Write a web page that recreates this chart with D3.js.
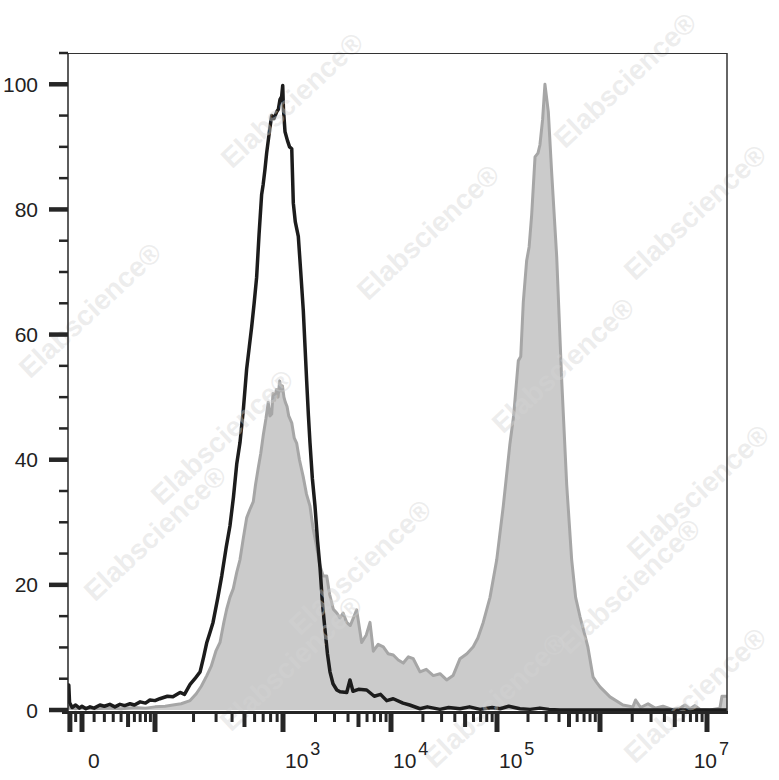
<!DOCTYPE html>
<html><head><meta charset="utf-8">
<script src="https://cdn.jsdelivr.net/npm/d3@7"></script>
<style>html,body{margin:0;padding:0;background:#fff;} svg{display:block;}</style>
</head><body><svg id="chart" width="779" height="780"></svg>
<script>
// ---------- DATA ----------
// [fluorescence intensity, % of max]
const controlCurve = [
[-11.7,4],[-11,4],[-10.3,1.2],[-8,0.4],[-5,0.8],[-2,0.3],[0,0.6],[3,0.2],[6.4,0.5],[10,0.3],[15.5,0.8],[20,0.6],[26,0.9],[32,0.5],[38.5,0.9],[45,0.7],[53,1.0],[60,0.8],[70,1.3],[80,1.1],[89,1.6],[100,1.5],[109,1.8],[125,2.2],[138,2.1],[157,2.8],[170,2.5],[188,4.1],[205,5.0],[225,6.1],[240,8.5],[254,10.8],[270,12.5],[284,14],[310,18],[332,21.4],[360,26],[385,29.4],[410,34],[435,39.3],[461,42.7],[490,48],[520,54.5],[545,58],[569,61.2],[595,65],[622,69.1],[650,76],[681,82.4],[700,84],[723,86.4],[745,89],[767,91],[790,93],[816,95],[850,94.5],[893,95.6],[920,96],[948,97.6],[975,98],[995,99.8],[1010,96],[1044,92.4],[1100,91],[1150,90],[1205,89.7],[1246,81],[1300,78],[1386,75.7],[1460,70],[1542,63.8],[1600,58],[1656,52.6],[1720,47],[1778,42.7],[1870,37],[1978,32.6],[2090,27],[2203,22.7],[2320,17],[2449,12.8],[2580,9],[2723,6.1],[2904,4.2],[3150,3.2],[3373,2.9],[3890,2.8],[4170,4.8],[4446,3.0],[5000,3.3],[5954,3.2],[7000,2.2],[8000,2.5],[9120,1.5],[10500,1.8],[12980,1.1],[15000,0.8],[18780,0.2],[22000,0.5],[28970,0.1],[35000,0.4],[44770,0.2],[55000,0.5],[69180,0.1],[90000,0.4],[107000,0.2],[130000,0.6],[167000,0.2],[210000,0.1],[261000,0.3],[320000,0.1],[409000,0],[640000,0],[1e6,0],[2.37e6,0],[5.6e6,0],[1e7,0],[1.54e7,0]
];
const stainedCurve = [
[-11.7,0.8],[-10,0.3],[-5,0.2],[0,0.4],[10,0.2],[25,0.3],[40,0.2],[60,0.4],[80,0.3],[100,0.5],[120,0.6],[138,0.8],[160,1.0],[188,1.5],[210,2.6],[230,3.8],[254,5.5],[275,7.0],[300,9.5],[322,10.8],[345,14.0],[363,16.1],[385,18.0],[409,19.4],[435,22.0],[461,24.0],[490,27.5],[520,30.7],[550,32.0],[586,33.3],[610,36.0],[641,38.7],[670,41.0],[702,44.0],[735,46.5],[767,49.2],[790,47.0],[816,47.3],[835,50.6],[860,49.5],[887,51.2],[915,50.0],[942,52.6],[965,51.0],[990,51.8],[1020,50.0],[1050,49.2],[1090,48.5],[1130,47.0],[1205,45.9],[1270,43.5],[1340,42.6],[1420,40.0],[1538,37.3],[1650,34.5],[1778,32.6],[1900,29.0],[2052,26.0],[2200,23.0],[2361,21.4],[2540,21.4],[2700,18.5],[2925,16.1],[3150,15.5],[3373,14.7],[3600,15.5],[3890,14.0],[4200,13.5],[4810,16.0],[5350,10.8],[5900,12.0],[6390,14.0],[6860,9.4],[7600,10.5],[8490,10.1],[9400,9.0],[10510,8.8],[11700,8.0],[13060,7.5],[14600,8.5],[16220,8.2],[18780,6.1],[21500,6.5],[25070,5.5],[29000,5.8],[33500,4.8],[38500,5.5],[44770,8.2],[52000,9.0],[59700,10.1],[66000,11.5],[74130,14.0],[85900,18.0],[99400,24.0],[115100,32.6],[133600,42.6],[145000,47],[161000,55.8],[170000,56.5],[180000,65.2],[194000,71.8],[205000,74],[217000,79.1],[234000,88.4],[250000,89],[261000,90.3],[277000,94.3],[292000,100],[315000,95.6],[340000,85.7],[380000,72.4],[424000,53],[475000,36],[531000,24],[580000,18],[640000,14.9],[700000,12.5],[764000,10],[855000,5.3],[920000,4.5],[1e6,3.7],[1.24e6,2.1],[1.64e6,0.8],[2.03e6,0.5],[2.15e6,1.6],[2.4e6,0.4],[2.81e6,1.0],[3.27e6,0.3],[3.88e6,0.6],[4.71e6,0.1],[5.6e6,0.3],[6.22e6,0.8],[6.93e6,0.2],[7.72e6,0.7],[8.6e6,0.1],[1.066e7,0],[1.32e7,0.3],[1.38e7,2.2],[1.54e7,2.2]
];
const yMajorTicks = [0,20,40,60,80,100];
const yMinorTicks = [5,10,15,25,30,35,45,50,55,65,70,75,85,90,95,105];
const xMajorTicks = [-10,0,100,1e3,1e4,1e5,1e6,1e7];
const xMediumTicks = [50,500,5e3,5e4,5e5,5e6];
const xMinorTicks = [-5,10,20,30,40,60,70,80,90].concat(
  ...[2,3,4,5,6].map(e => [2,3,4,6,7,8,9].map(m => m * Math.pow(10, e))));
const xTickLabels = [
  {value:0, base:"0", exp:""},
  {value:1e3, base:"10", exp:"3"},
  {value:1e4, base:"10", exp:"4"},
  {value:1e5, base:"10", exp:"5"},
  {value:1e7, base:"10", exp:"7"}
];
const watermarkText = "Elabscience®";
const watermarkSpots = [[292,100],[428,232],[563,365],[698,492],[90,310],[222,437],[360,567],[495,700],[625,80],[695,212],[155,533],[291,663],[629,586],[695,695]];

// ---------- SCALES ----------
const plot = {left:68, right:727, top:53, bottom:712};
function biex(v){ // linear-like near 0, log10 above 100
  const a = Math.abs(v);
  const t = a < 100 ? 2*Math.log1p(a/50)/Math.log(3) : Math.log10(a);
  return v < 0 ? -t : t;
}
const xDecade = d3.scaleLinear().domain([0,2,3,4,5,6,7]).range([82,155,283,391,497,600,707]);
const x = v => xDecade(biex(v));
const y = d3.scaleLinear().domain([0,105]).range([710, 53]);

const svg = d3.select("#chart");
const font = "'Liberation Sans', Arial, sans-serif";

svg.append("defs").append("clipPath").attr("id","clip")
  .append("rect").attr("x",plot.left).attr("y",plot.top)
  .attr("width",plot.right-plot.left).attr("height",plot.bottom-plot.top);

const g = svg.append("g").attr("clip-path","url(#clip)");

const area = d3.area().x(d=>x(d[0])).y0(y(0)).y1(d=>y(d[1]));
const line = d3.line().x(d=>x(d[0])).y(d=>y(d[1]));

g.append("path").datum(stainedCurve).attr("d",area).attr("fill","#cbcbcb");
g.append("path").datum(stainedCurve).attr("d",line).attr("fill","none")
  .attr("stroke","#a6a6a6").attr("stroke-width",3).attr("stroke-linejoin","round");
g.append("path").datum(controlCurve).attr("d",line).attr("fill","none")
  .attr("stroke","#1c1c1c").attr("stroke-width",3.5).attr("stroke-linejoin","round");

// watermark
svg.append("g").selectAll("text").data(watermarkSpots).join("text")
  .attr("transform", d => `translate(${d[0]},${d[1]}) rotate(-43)`)
  .attr("text-anchor","middle").attr("dy","0.35em")
  .attr("font-family",font).attr("font-weight","bold").attr("font-size",28)
  .attr("fill","#d4d4d4").attr("fill-opacity",0.42)
  .text(watermarkText);

// frame
const axisColor = "#262626";
svg.append("line").attr("x1",plot.left).attr("x2",plot.right).attr("y1",plot.top+0.5).attr("y2",plot.top+0.5)
  .attr("stroke","#333").attr("stroke-width",1);
svg.append("line").attr("x1",plot.right).attr("x2",plot.right).attr("y1",plot.top).attr("y2",plot.bottom)
  .attr("stroke","#333").attr("stroke-width",1.5);
svg.append("line").attr("x1",plot.left).attr("x2",plot.left).attr("y1",plot.top).attr("y2",plot.bottom+2)
  .attr("stroke",axisColor).attr("stroke-width",1.5);
svg.append("line").attr("x1",plot.left-6).attr("x2",plot.right+1).attr("y1",plot.bottom+0.5).attr("y2",plot.bottom+0.5)
  .attr("stroke",axisColor).attr("stroke-width",3);

// y ticks
svg.append("g").selectAll("line").data(yMajorTicks).join("line")
  .attr("x1",49).attr("x2",plot.left).attr("y1",d=>y(d)).attr("y2",d=>y(d))
  .attr("stroke",axisColor).attr("stroke-width",4.5);
svg.append("g").selectAll("line").data(yMinorTicks).join("line")
  .attr("x1",59).attr("x2",plot.left).attr("y1",d=>y(d)).attr("y2",d=>y(d))
  .attr("stroke",axisColor).attr("stroke-width",2.5);
svg.append("g").selectAll("text").data(yMajorTicks).join("text")
  .attr("x",38).attr("y",d=>y(d)+7.5).attr("text-anchor","end")
  .attr("font-family",font).attr("font-size",21).attr("fill","#222")
  .text(d=>d);

// x ticks
const tickLayer = svg.append("g");
tickLayer.selectAll(".mn").data(xMinorTicks).join("line")
  .attr("x1",d=>x(d)).attr("x2",d=>x(d)).attr("y1",plot.bottom).attr("y2",722)
  .attr("stroke",axisColor).attr("stroke-width",3);
tickLayer.selectAll(".md").data(xMediumTicks).join("line")
  .attr("x1",d=>x(d)).attr("x2",d=>x(d)).attr("y1",plot.bottom).attr("y2",727)
  .attr("stroke",axisColor).attr("stroke-width",4);
tickLayer.selectAll(".mj").data(xMajorTicks).join("line")
  .attr("x1",d=>x(d)).attr("x2",d=>x(d)).attr("y1",plot.bottom).attr("y2",732)
  .attr("stroke",axisColor).attr("stroke-width",5);

// x labels
const lab = svg.append("g").selectAll("g").data(xTickLabels).join("g");
lab.each(function(d){
  const gg = d3.select(this);
  const t = gg.append("text").attr("y",768).attr("font-family",font).attr("font-size",21).attr("fill","#222");
  t.append("tspan").text(d.base);
  if (d.exp) {
    t.append("tspan").attr("dy",-13).attr("dx",2).attr("font-size",18).text(d.exp);
  }
  const w = t.node().getComputedTextLength();
  let x0 = d.exp ? x(d.value) + 2 : x(d.value) + 6;
  x0 = Math.min(x0, 727 - w);
  t.attr("x", x0);
});
</script></body></html>
